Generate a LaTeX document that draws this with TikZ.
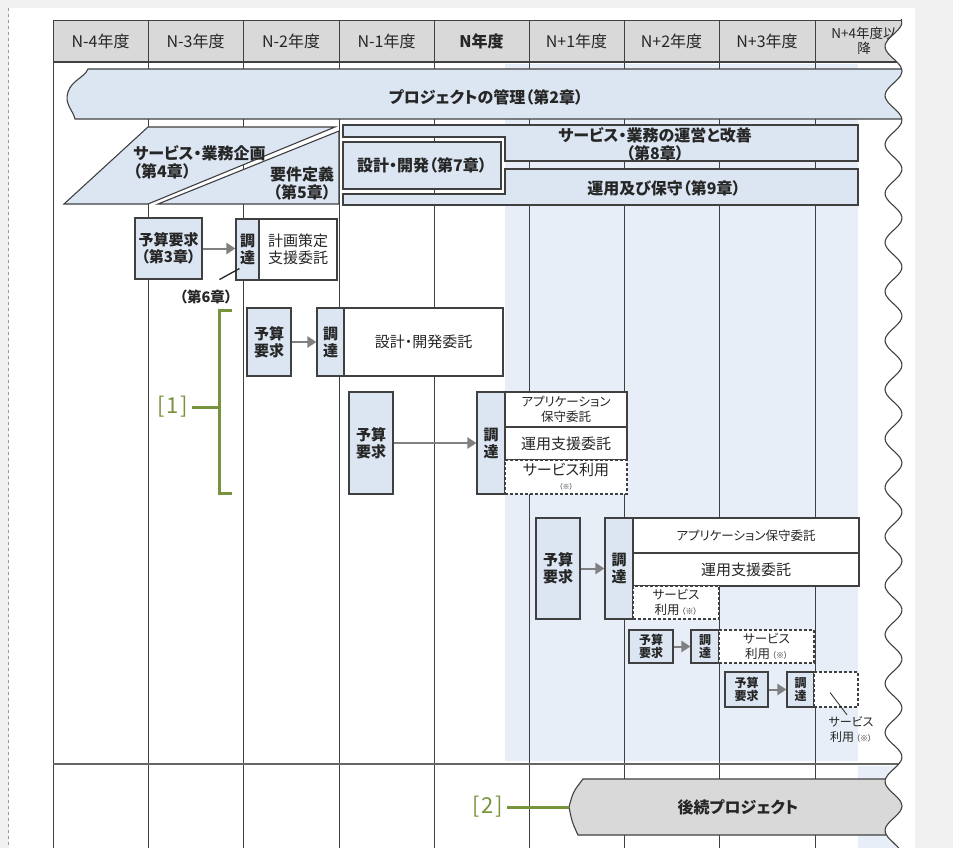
\documentclass[tikz,border=0pt]{standalone}
\usepackage{fontspec}
\setmainfont[RawFeature=+palt]{Noto Sans CJK JP}
\usepackage{tikz}
\usetikzlibrary{arrows,arrows.meta,calc,positioning}
\definecolor{boxblue}{RGB}{220,230,242}
\definecolor{areablue}{RGB}{231,238,247}
\definecolor{hdrgray}{RGB}{217,217,217}
\definecolor{linegray}{RGB}{64,64,64}
\definecolor{pagegray}{RGB}{240,240,240}
\definecolor{markgreen}{RGB}{119,147,60}
\tikzset{
  >=latex',
  txt/.style={font=\fontsize{15}{17}\selectfont, text=black!85, align=center, inner sep=1pt},
  bold/.style={txt, font=\fontsize{15}{17}\selectfont\bfseries},
  phase/.style={txt, font=\fontsize{16}{18}\selectfont\bfseries},
  small/.style={txt, font=\fontsize{12.5}{15}\selectfont},
  band/.style={draw=linegray, fill=boxblue, line width=1.1pt},
  budgetbox/.style={bold, band, inner sep=0pt},
  taskbox/.style={txt, draw=linegray, fill=white, line width=1.1pt, inner sep=0pt},
  usebox/.style={taskbox, dash pattern=on 3pt off 2pt},
  grid/.style={draw=linegray, line width=0.9pt},
  flow/.style={draw, line width=2pt, color=black!50, -{Triangle[length=9pt,width=11pt]}},
  greenline/.style={draw=markgreen, line width=3pt}
}
\begin{document}
\begin{tikzpicture}[x=1pt,y=-1pt]
    % Page
    \useasboundingbox (0,0) rectangle (953,848);
    \fill[pagegray] (0,0) rectangle (953,848);
    \fill[white] (9,8) rectangle (915,848);
    \draw[dashed, black!40] (8,8) -- (8,848);
    % Year columns
    \fill[hdrgray] (53,20) rectangle (905,62);
    \fill[areablue] (505,64) rectangle (858,761);
    \fill[areablue] (858,766) rectangle (905,848);
    \draw[grid] (53,20) -- (53,848) (148,20) -- (148,848) (243,20) -- (243,848)
                (339,20) -- (339,848) (434,20) -- (434,848) (529,20) -- (529,848)
                (624,20) -- (624,848) (719,20) -- (719,848) (815,20) -- (815,848)
                (53,20) -- (905,20);
    \draw[grid, line width=1.8pt] (53,62) -- (905,62);
    \draw[grid, line width=2.2pt, draw=black!60] (53,764) -- (905,764);
    \node[txt, font=\fontsize{16}{18}\selectfont] (h1) at (100.5,41) {N-4年度};
    \node[txt, font=\fontsize{16}{18}\selectfont] (h2) at (195.5,41) {N-3年度};
    \node[txt, font=\fontsize{16}{18}\selectfont] (h3) at (291,41) {N-2年度};
    \node[txt, font=\fontsize{16}{18}\selectfont] (h4) at (386.5,41) {N-1年度};
    \node[bold, font=\fontsize{16}{18}\selectfont\bfseries] (h5) at (481.5,41) {N年度};
    \node[txt, font=\fontsize{16}{18}\selectfont] (h6) at (576.5,41) {N+1年度};
    \node[txt, font=\fontsize{16}{18}\selectfont] (h7) at (671.5,41) {N+2年度};
    \node[txt, font=\fontsize{16}{18}\selectfont] (h8) at (767,41) {N+3年度};
    \node[txt, font=\fontsize{13.5}{15}\selectfont] (h9) at (864,41) {N+4年度以\\降};
    % Phases
    \filldraw[band] (88,69) .. controls (84,78) and (72,80) .. (68,92)
          .. controls (64,104) and (73,110) .. (75,119) -- (905,119) -- (905,69) -- cycle;
    \node[phase] (kanri) at (486,97) {プロジェクトの管理（第2章）};
    \filldraw[band] (64,204) -- (148,127) -- (335,127) -- (148,204) -- cycle;
    \node[phase, align=left, anchor=west] (kikaku) at (132,162) {サービス・業務企画\\（第4章）};
    \filldraw[band] (158,204) -- (339,131) -- (339,204) -- cycle;
    \node[phase] (yoken) at (302,183) {要件定義\\（第5章）};
    \filldraw[band] (343,125) -- (858,125) -- (858,161) -- (505,161) -- (505,137) -- (343,137) -- cycle;
    \node[phase] (unei) at (655,144) {サービス・業務の運営と改善\\（第8章）};
    \filldraw[band] (343,194) -- (505,194) -- (505,169) -- (858,169) -- (858,205) -- (343,205) -- cycle;
    \node[phase] (hoshu) at (664,188) {運用及び保守（第9章）};
    \node[budgetbox, phase, minimum width=158, minimum height=47] (sekkei) at (422,165.5) {設計・開発（第7章）};
    % Budget request -> procurement
    \node[budgetbox, minimum width=67, minimum height=61] (yr1) at (168.5,248.5) {予算要求\\（第3章）};
    \node[budgetbox, minimum width=23, minimum height=61] (cr1) at (247.5,249.5) {調\\達};
    \node[taskbox, minimum width=78, minimum height=61] (ir1) at (298,249.5) {計画策定\\支援委託};
    \draw[flow] (yr1.east) -- (yr1.east -| cr1.west);
    \node[bold, font=\fontsize{14.5}{16}\selectfont\bfseries] (ch6) at (206,297) {（第6章）};
    \draw[line width=1.3pt, black!85] ($(cr1.south west)+(4,-12)$) -- ($(cr1.south west)+(-16,-1)$);

    \node[budgetbox, minimum width=44, minimum height=68] (yr2) at (269,342) {予算\\要求};
    \node[budgetbox, minimum width=27, minimum height=68] (cr2) at (330.5,342) {調\\達};
    \node[taskbox, minimum width=159, minimum height=68] (ir2) at (423.5,342) {設計・開発委託};
    \draw[flow] (yr2) -- (cr2);

    \node[budgetbox, minimum width=44, minimum height=102] (yr3) at (371,443) {予算\\要求};
    \node[budgetbox, minimum width=28, minimum height=102] (cr3) at (491,443) {調\\達};
    \node[taskbox, small, minimum width=122, minimum height=35] (ir3a) at (566,409.5) {アプリケーション\\保守委託};
    \node[taskbox, minimum width=122, minimum height=33] (ir3b) at (566,443.5) {運用支援委託};
    \node[usebox, minimum width=122, minimum height=34] (sr3) at (566,477) {サービス利用\\[-3pt]{\fontsize{7}{8}\selectfont（※）}};
    \draw[flow] (yr3) -- (cr3);

    \node[budgetbox, minimum width=44, minimum height=101] (yr4) at (558,568.5) {予算\\要求};
    \node[budgetbox, minimum width=28, minimum height=101] (cr4) at (619,568.5) {調\\達};
    \node[taskbox, small, minimum width=226, minimum height=35] (ir4a) at (746,535.5) {アプリケーション保守委託};
    \node[taskbox, minimum width=226, minimum height=33] (ir4b) at (746,569.5) {運用支援委託};
    \node[usebox, small, minimum width=86, minimum height=33] (sr4) at (676,602.5) {サービス\\利用\kern2pt{\fontsize{8}{9}\selectfont（※）}};
    \draw[flow] (yr4) -- (cr4);

    \node[budgetbox, font=\fontsize{12}{13.5}\selectfont\bfseries, minimum width=44, minimum height=33] (yr5) at (651,646.5) {予算\\要求};
    \node[budgetbox, font=\fontsize{12}{13.5}\selectfont\bfseries, minimum width=28, minimum height=33] (cr5) at (705,646.5) {調\\達};
    \node[usebox, small, minimum width=95, minimum height=33] (sr5) at (766.5,646.5) {サービス\\利用\kern2pt{\fontsize{8}{9}\selectfont（※）}};
    \draw[flow] (yr5) -- (cr5);

    \node[budgetbox, font=\fontsize{12}{13.5}\selectfont\bfseries, minimum width=43, minimum height=35] (yr6) at (746.5,689.5) {予算\\要求};
    \node[budgetbox, font=\fontsize{12}{13.5}\selectfont\bfseries, minimum width=27, minimum height=35] (cr6) at (800.5,689.5) {調\\達};
    \node[usebox, minimum width=44, minimum height=35] (sr6) at (836,689.5) {};
    \draw[flow] (yr6) -- (cr6);
    \node[small, font=\fontsize{12}{15}\selectfont] (lb6) at (851,730) {サービス\\利用\kern2pt{\fontsize{8}{9}\selectfont（※）}};
    \draw[line width=0.8pt, black!85] ($(sr6.center)+(-6,3)$) -- ($(lb6.north)+(-4,-1)$);
    % Markers
    \node[text=markgreen, font=\fontsize{22}{22}\selectfont] (one) at (173,407) {[\kern1.5pt1\kern1.5pt]};
    \draw[greenline] (232,310) -- (219,310) -- (219,493) -- (232,493);
    \coordinate (brk) at (219,407);
    \draw[greenline] (one) -- (brk);
    \filldraw[draw=linegray, fill=hdrgray, line width=1.1pt] (583,779) -- (905,779) -- (905,835) -- (578,835)
          .. controls (572,822) .. (569,807) .. controls (573,792) .. (583,779) -- cycle;
    \coordinate (ktip) at (569,807);
    \node[phase] (koki) at (738,807) {後続プロジェクト};
    \node[text=markgreen, font=\fontsize{22}{22}\selectfont] (two) at (488,807) {[\kern1.5pt2\kern1.5pt]};
    \draw[greenline] (two) -- (ktip);
    % Torn edge
    \fill[white] plot[domain=19:848, samples=160, smooth] ({893.5+8.5*cos(7.347*(\x-22))}, \x)
          -- (915,848) -- (915,19) -- cycle;
    \draw[linegray, line width=1.1pt] plot[domain=19:848, samples=160, smooth] ({893.5+8.5*cos(7.347*(\x-22))}, \x);
\end{tikzpicture}
\end{document}
